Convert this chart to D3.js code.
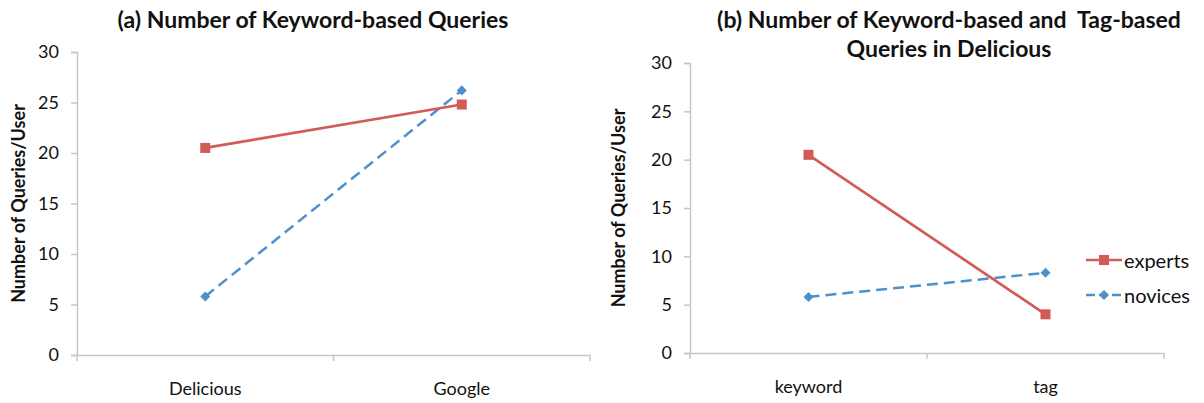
<!DOCTYPE html>
<html>
<head>
<meta charset="utf-8">
<script src="https://cdn.jsdelivr.net/npm/d3@7"></script>
<style>
  html, body { margin: 0; padding: 0; background: #fff; }
  svg { display: block; font-family: Lato, "Open Sans", sans-serif; }
</style>
</head>
<body>
<svg id="chart" width="1204" height="403"></svg>
<script>
// ---- data ----
const catsA = ["Delicious", "Google"];
const expertsA = [20.5, 24.8];
const novicesA = [5.8, 26.2];

const catsB = ["keyword", "tag"];
const expertsB = [20.5, 4.0];
const novicesB = [5.8, 8.3];

const yTicks = [0, 5, 10, 15, 20, 25, 30];
const seriesNames = ["experts", "novices"];
const titleA = ["(a) Number of Keyword-based Queries"];
const titleB = ["(b) Number of Keyword-based and  Tag-based", "Queries in Delicious"];
const yTitle = "Number of Queries/User";

// ---- style ----
const RED = "#d25b57", BLUE = "#4c91cd", AXIS = "#c6c6c6", TXT = "#111";

const svg = d3.select("#chart");

function panel(cfg) {
  const g = svg.append("g");
  const x = d3.scaleBand().domain(cfg.cats).range([cfg.x0, cfg.x1]);
  const y = d3.scaleLinear().domain([0, 30]).range([cfg.y0, cfg.y1]);

  // y axis
  const ya = g.append("g").attr("transform", `translate(${cfg.x0},0)`)
    .call(d3.axisLeft(y).tickValues(yTicks).tickSize(6).tickPadding(12));
  ya.select(".domain").attr("stroke", AXIS).attr("stroke-width", 1.5);
  ya.selectAll(".tick line").attr("stroke", AXIS).attr("stroke-width", 1.5);
  ya.selectAll(".tick text").attr("fill", TXT).style("font-size", "18px")
    .style("font-family", "Lato, sans-serif");

  // x axis line + boundary ticks
  const xa = g.append("g").attr("transform", `translate(0,${cfg.y0})`)
    .call(d3.axisBottom(x).tickSize(0).tickPadding(27).tickSizeOuter(0));
  xa.select(".domain").attr("stroke", AXIS).attr("stroke-width", 1.5);
  xa.selectAll(".tick text").attr("fill", TXT).style("font-size", "18px")
    .style("font-family", "Lato, sans-serif");
  const bounds = cfg.cats.map(c => x(c)).concat([x(cfg.cats[cfg.cats.length - 1]) + x.bandwidth()]);
  g.selectAll("line.bt").data(bounds).join("line")
    .attr("x1", d => d).attr("x2", d => d)
    .attr("y1", cfg.y0).attr("y2", cfg.y0 + 6)
    .attr("stroke", AXIS).attr("stroke-width", 1.5);

  const cx = c => x(c) + x.bandwidth() / 2;
  const line = d3.line().x((d, i) => cx(cfg.cats[i])).y(d => y(d));

  // novices (dashed blue)
  g.append("path").datum(cfg.novices).attr("d", line)
    .attr("fill", "none").attr("stroke", BLUE).attr("stroke-width", 2.5)
    .attr("stroke-dasharray", "11,6");
  g.selectAll("path.dia").data(cfg.novices).join("path")
    .attr("transform", (d, i) => `translate(${cx(cfg.cats[i])},${y(d)})`)
    .attr("d", d3.symbol(d3.symbolDiamond2, 64)()).attr("fill", BLUE);

  // experts (solid red)
  g.append("path").datum(cfg.experts).attr("d", line)
    .attr("fill", "none").attr("stroke", RED).attr("stroke-width", 2.7);
  g.selectAll("rect.sq").data(cfg.experts).join("rect")
    .attr("x", (d, i) => cx(cfg.cats[i]) - 5).attr("y", d => y(d) - 5)
    .attr("width", 10).attr("height", 10).attr("fill", RED);

  // title
  g.selectAll("text.title").data(cfg.title).join("text")
    .attr("x", cfg.tx).attr("y", (d, i) => cfg.ty + i * 29)
    .attr("text-anchor", "middle").attr("fill", TXT)
    .style("font-size", "23px").style("font-weight", "bold")
    .style("white-space", "pre").attr("xml:space", "preserve")
    .text(d => d);

  // y axis title
  g.append("text")
    .attr("transform", `translate(${cfg.yx},${(cfg.y0 + cfg.y1) / 2}) rotate(-90)`)
    .attr("text-anchor", "middle").attr("dominant-baseline", "central")
    .attr("fill", TXT).style("font-size", "18px").style("font-weight", "bold")
    .text(yTitle);
  return { x, y };
}

panel({ cats: catsA, experts: expertsA, novices: novicesA,
  x0: 77, x1: 590, y0: 355, y1: 52, title: titleA, tx: 313, ty: 28, yx: 18 });

panel({ cats: catsB, experts: expertsB, novices: novicesB,
  x0: 690, x1: 1164, y0: 353, y1: 63, title: titleB, tx: 949, ty: 28, yx: 618 });

// legend
const leg = svg.append("g");
const legY = d3.scalePoint().domain(seriesNames).range([260, 295]);
seriesNames.forEach(name => {
  const yy = legY(name);
  const col = name === "experts" ? RED : BLUE;
  leg.append("line").attr("x1", 1086).attr("x2", 1122).attr("y1", yy).attr("y2", yy)
    .attr("stroke", col).attr("stroke-width", 2.5)
    .attr("stroke-dasharray", name === "experts" ? null : "9,4");
  if (name === "experts") {
    leg.append("rect").attr("x", 1099).attr("y", yy - 5).attr("width", 10).attr("height", 10).attr("fill", col);
  } else {
    leg.append("path").attr("transform", `translate(1104,${yy})`)
      .attr("d", d3.symbol(d3.symbolDiamond2, 64)()).attr("fill", col);
  }
  leg.append("text").attr("x", 1124).attr("y", yy).attr("dominant-baseline", "central")
    .attr("fill", TXT).style("font-size", "20px").text(name);
});
</script>
</body>
</html>
